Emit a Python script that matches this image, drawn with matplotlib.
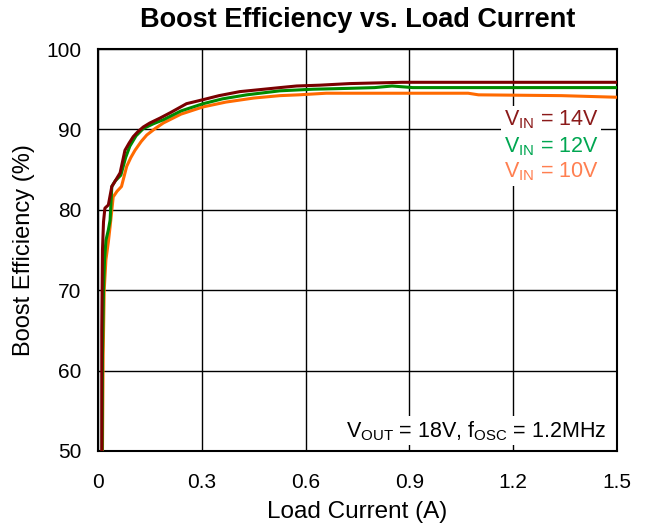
import matplotlib
matplotlib.use("Agg")
import matplotlib.pyplot as plt

plt.rcParams['font.family'] = ['Liberation Sans', 'DejaVu Sans']

# Load current (A) and efficiency (%) per input voltage
i_14 = [0.011, 0.011, 0.013, 0.016, 0.020, 0.030, 0.040, 0.050, 0.064, 0.078, 0.090, 0.102, 0.115,
        0.131, 0.150, 0.179, 0.210, 0.256, 0.304, 0.350, 0.410, 0.480, 0.526, 0.574, 0.641, 0.728,
        0.880, 1.000, 1.200, 1.500]
e_14 = [50.0, 65.0, 75.0, 78.5, 80.2, 80.6, 82.9, 83.6, 84.6, 87.4, 88.3, 89.1, 89.7,
        90.3, 90.8, 91.4, 92.1, 93.2, 93.7, 94.2, 94.7, 95.0, 95.2, 95.4, 95.5, 95.7,
        95.86, 95.86, 95.86, 95.86]

i_12 = [0.012, 0.013, 0.016, 0.019, 0.023, 0.030, 0.035, 0.040, 0.050, 0.066, 0.080, 0.092, 0.110,
        0.131, 0.160, 0.189, 0.240, 0.304, 0.360, 0.430, 0.526, 0.622, 0.720, 0.800, 0.850,
        0.880, 0.910, 1.000, 1.200, 1.500]
e_12 = [50.0, 62.0, 70.0, 73.8, 76.2, 77.5, 78.7, 82.9, 83.6, 84.3, 86.5, 87.9, 89.2,
        90.1, 90.7, 91.2, 92.3, 93.2, 93.8, 94.3, 94.8, 95.0, 95.1, 95.2, 95.4,
        95.3, 95.2, 95.2, 95.2, 95.2]

i_10 = [0.013, 0.015, 0.018, 0.023, 0.030, 0.035, 0.044, 0.055, 0.068, 0.083, 0.095, 0.107, 0.125,
        0.141, 0.165, 0.189, 0.240, 0.304, 0.370, 0.450, 0.526, 0.580, 0.660, 0.900, 1.070,
        1.100, 1.340, 1.500]
e_10 = [50.0, 62.0, 70.0, 73.8, 76.0, 77.9, 81.6, 82.3, 82.9, 85.4, 86.5, 87.4, 88.5,
        89.3, 90.1, 90.8, 91.9, 92.8, 93.4, 93.9, 94.2, 94.3, 94.5, 94.5, 94.5,
        94.3, 94.2, 94.0]

x_ticks = [0, 0.3, 0.6, 0.9, 1.2, 1.5]
x_tick_labels = ['0', '0.3', '0.6', '0.9', '1.2', '1.5']
y_ticks = [50, 60, 70, 80, 90, 100]

fig = plt.figure(figsize=(6.48, 5.31), dpi=100)
ax = fig.add_axes([0.1512, 0.1507, 0.8008, 0.757])

ax.plot(i_10, e_10, color='#ff6a00', lw=2.2, zorder=3)
ax.plot(i_12, e_12, color='#008a00', lw=2.2, zorder=4)
ax.plot(i_14, e_14, color='#7a0000', lw=2.2, zorder=5)

ax.set_xlim(0, 1.5)
ax.set_ylim(50, 100)
ax.set_xticks(x_ticks)
ax.set_xticklabels(x_tick_labels)
ax.set_yticks(y_ticks)
ax.grid(True, color='black', lw=1.0)
ax.tick_params(length=0, labelsize=15)
ax.tick_params(axis='x', pad=16)
ax.tick_params(axis='y', pad=12)
for s in ax.spines.values():
    s.set_linewidth(1.5)
    s.set_color('black')

ax.set_xlabel('Load Current (A)', fontsize=17.5, labelpad=6)
ax.set_ylabel('Boost Efficiency (%)', fontsize=17, labelpad=8)
ax.set_title('Boost Efficiency vs. Load Current', fontsize=19.5, fontweight='bold', pad=16)

bb = dict(facecolor='white', edgecolor='none', pad=2)
ax.text(1.447, 91.2, r'V$_{\mathregular{IN}}$ = 14V', color='#8b1a1a', fontsize=15.5,
        ha='right', va='center', bbox=bb, zorder=6)
ax.text(1.447, 87.9, r'V$_{\mathregular{IN}}$ = 12V', color='#00a651', fontsize=15.5,
        ha='right', va='center', bbox=bb, zorder=6)
ax.text(1.447, 84.7, r'V$_{\mathregular{IN}}$ = 10V', color='#ff7f50', fontsize=15.5,
        ha='right', va='center', bbox=bb, zorder=6)
ax.text(1.471, 52.5, r'V$_{\mathregular{OUT}}$ = 18V, f$_{\mathregular{OSC}}$ = 1.2MHz', color='black',
        fontsize=15.5, ha='right', va='center', bbox=bb, zorder=6)

fig.savefig('out.png', dpi=100)
